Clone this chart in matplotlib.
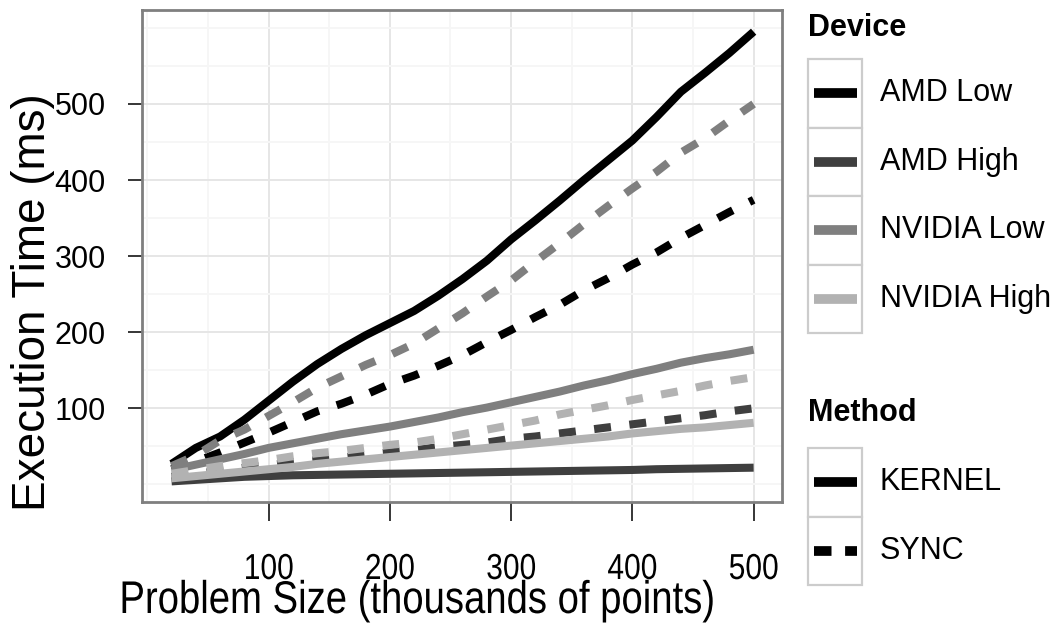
import matplotlib
matplotlib.use("Agg")
import matplotlib.pyplot as plt
from matplotlib.patches import Rectangle
from matplotlib.lines import Line2D
from matplotlib.patheffects import AbstractPathEffect
from matplotlib.transforms import Affine2D

plt.rcParams['font.family'] = ['Liberation Sans', 'DejaVu Sans']

# problem size in thousands of points
sizes = [20, 40, 60, 80, 100, 120, 140, 160, 180, 200, 220, 240, 260,
         280, 300, 320, 340, 360, 380, 400, 420, 440, 460, 480, 500]

# execution time (ms) per device, KERNEL method
amd_low_kernel = [27, 48, 63, 85, 110, 135, 158, 178, 196, 212, 228, 248, 270,
                  294, 322, 347, 373, 400, 426, 452, 483, 516, 541, 567, 595]
amd_high_kernel = [4, 6, 8, 10, 11, 12, 12.5, 13, 13.5, 14, 14.5, 15, 15.5,
                   16, 16.5, 17, 17.5, 18, 18.5, 19, 20, 20.5, 21, 21.5, 22]
nvidia_low_kernel = [19, 26, 33, 40, 48, 54, 60, 66, 71, 76, 82, 88, 95,
                     101, 108, 115, 122, 130, 137, 145, 152, 160, 166, 171, 177]
nvidia_high_kernel = [8, 11, 14, 17, 20, 23, 27, 30, 33, 36, 39, 42, 45,
                      48, 51, 54, 57, 60, 63, 67, 70, 73, 75, 78, 81]

# execution time (ms) per device, SYNC method
amd_low_sync = [20, 30, 42, 55, 68, 82, 96, 106, 118, 132, 143, 156, 170,
                187, 203, 220, 236, 255, 271, 289, 305, 324, 341, 358, 374]
amd_high_sync = [10, 14, 18, 22, 25, 29, 32, 35, 39, 42, 45, 49, 52,
                 55, 60, 63, 67, 71, 75, 79, 83, 87, 91, 96, 100]
nvidia_low_sync = [24, 38, 58, 72, 90, 108, 127, 142, 157, 170, 185, 205, 225,
                   247, 268, 293, 317, 342, 366, 389, 411, 436, 455, 478, 500]
nvidia_high_sync = [14, 19, 24, 28, 32, 37, 41, 44, 48, 52, 55, 60, 66,
                    72, 78, 84, 92, 98, 104, 111, 117, 123, 130, 136, 141]

devices = ['AMD Low', 'AMD High', 'NVIDIA Low', 'NVIDIA High']
methods = ['KERNEL', 'SYNC']
colors = ['#000000', '#3f3f3f', '#7f7f7f', '#b2b2b2']
kernel = [amd_low_kernel, amd_high_kernel, nvidia_low_kernel, nvidia_high_kernel]
sync = [amd_low_sync, amd_high_sync, nvidia_low_sync, nvidia_high_sync]


class Squeeze(AbstractPathEffect):
    """Draw text horizontally condensed about its own centre."""

    def __init__(self, sx):
        super().__init__()
        self.sx = sx

    def draw_path(self, renderer, gc, tpath, affine, rgbFace=None):
        ext = tpath.get_extents()
        xc = (ext.x0 + ext.x1) / 2
        t = Affine2D().translate(-xc, 0).scale(self.sx, 1).translate(xc, 0) + affine
        renderer.draw_path(gc, tpath, t, rgbFace)


W, H = 1063, 627
fig = plt.figure(figsize=(W / 100, H / 100), dpi=100)
# panel: x 142..782 px, y 10..502 px
ax = fig.add_axes([142 / W, 1 - 502 / H, 640 / W, 492 / H])

lw = 5.8
dash = (0, (2.1, 2.3))
for i in range(4):
    ax.plot(sizes, kernel[i], color=colors[i], lw=lw, solid_joinstyle='round',
            solid_capstyle='butt', zorder=3)
    ax.plot(sizes, sync[i], color=colors[i], lw=lw, linestyle=dash,
            dash_capstyle='butt', zorder=3)

ticks = [100, 200, 300, 400, 500]
minor = [0, 50, 150, 250, 350, 450, 550, 600]
ax.set_xticks(ticks)
ax.set_yticks(ticks)
ax.set_xticks(minor, minor=True)
ax.set_yticks(minor, minor=True)
ax.set_xlim(-4.4, 523.4)
ax.set_ylim(-23.1, 623.5)
ax.grid(True, which='major', color='#e6e6e6', lw=1.4, zorder=0)
ax.grid(True, which='minor', color='#f6f6f6', lw=1.4, zorder=0)
ax.tick_params(which='minor', length=0)
ax.tick_params(axis='y', length=10, width=1.1, color='black', pad=16,
               labelsize=22)
ax.tick_params(axis='x', length=14, width=1.1, color='black', pad=22)
for lab in ax.get_xticklabels():
    lab.set_fontsize(26)
    lab.set_path_effects([Squeeze(0.83)])

for s in ax.spines.values():
    s.set_color('#7f7f7f')
    s.set_linewidth(2.0)

fig.text(33 / W, 1 - 302 / H, 'Execution Time (ms)', rotation=90,
         ha='center', va='center', fontsize=33)
xt = fig.text(417 / W, 1 - 613 / H, 'Problem Size (thousands of points)',
              ha='center', va='baseline', fontsize=33)
xt.set_path_effects([Squeeze(0.835)])

# legends drawn in pixel space
lax = fig.add_axes([0, 0, 1, 1])
lax.set_xlim(0, W)
lax.set_ylim(H, 0)
lax.axis('off')


def legend_block(title, title_y, top, labels, cols, styles):
    lax.text(808, title_y, title, fontsize=22, fontweight='bold',
             ha='left', va='center')
    h = 68.5
    for k, lab in enumerate(labels):
        y0 = top + k * h
        lax.add_patch(Rectangle((808, y0), 54, h, facecolor='white',
                                edgecolor='#cccccc', lw=1.6))
        cy = y0 + h / 2
        lax.add_line(Line2D([814, 857], [cy, cy], color=cols[k], lw=7,
                            linestyle=styles[k], solid_capstyle='butt',
                            dash_capstyle='butt'))
        lax.text(880, cy, lab, fontsize=22, ha='left', va='center')


legend_block('Device', 28, 59, devices, colors, ['-'] * 4)
legend_block('Method', 413, 448, methods, ['#000000', '#000000'],
             ['-', (0, (1.8, 1.4))])

fig.savefig('out.png', dpi=100)
